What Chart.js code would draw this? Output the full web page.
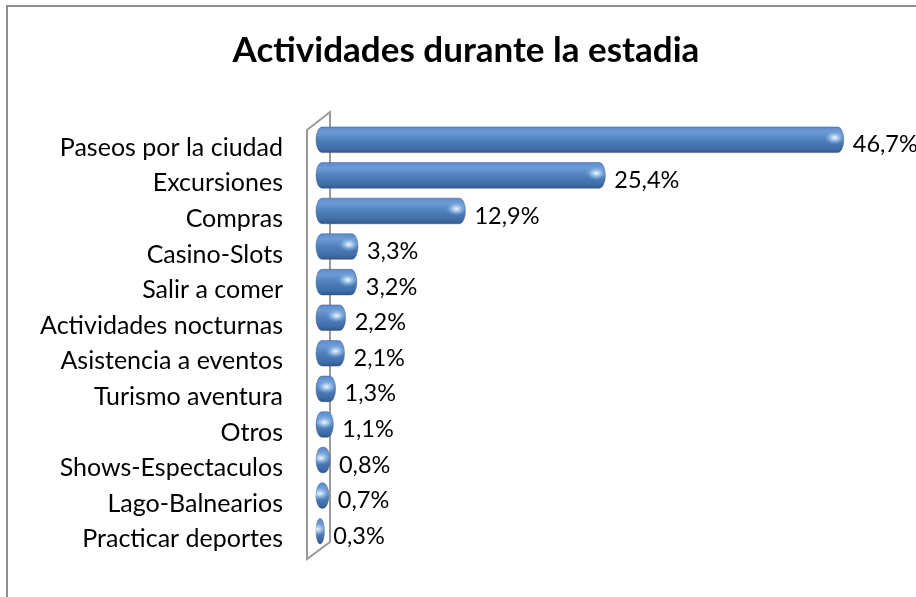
<!DOCTYPE html>
<html>
<head>
<meta charset="utf-8">
<script src="https://cdn.jsdelivr.net/npm/chart.js@4.4.1/dist/chart.umd.min.js"></script>
<style>
    html, body { margin: 0; padding: 0; background: #fff; overflow: hidden; }
    #wrap { width: 916px; height: 597px; position: relative; }
</style>
</head>
<body>
<div id="wrap"><canvas id="actividadesChart" width="916" height="597"></canvas></div>
<script>
// Datos
const categorias = [
    "Paseos por la ciudad", "Excursiones", "Compras", "Casino-Slots", "Salir a comer",
    "Actividades nocturnas", "Asistencia a eventos", "Turismo aventura", "Otros",
    "Shows-Espectaculos", "Lago-Balnearios", "Practicar deportes"
];
const porcentajes = [46.7, 25.4, 12.9, 3.3, 3.2, 2.2, 2.1, 1.3, 1.1, 0.8, 0.7, 0.3];
const etiquetas = porcentajes.map(v => v.toFixed(1).replace('.', ',') + '%');
const titulo = "Actividades durante la estadia";

const fuente = 'Lato, "Open Sans", sans-serif';

// Marco gris del grafico
const marco = {
    id: 'marco',
    beforeDraw(chart) {
        const c = chart.ctx;
        c.save();
        c.strokeStyle = '#8e8e8e';
        c.lineWidth = 2;
        c.strokeRect(7, 6, 2000, 2000);
        c.restore();
    }
};

// Pared 3D a la izquierda
const pared = {
    id: 'pared',
    beforeDatasetsDraw(chart) {
        const c = chart.ctx;
        const a = chart.chartArea;
        const x0 = chart.scales.x.getPixelForValue(0);
        c.save();
        c.beginPath();
        c.moveTo(x0 - 9, a.top + 8);
        c.lineTo(x0 + 14, a.top - 10);
        c.lineTo(x0 + 14, a.bottom - 7);
        c.lineTo(x0 - 9, a.bottom + 10);
        c.closePath();
        c.fillStyle = '#ffffff';
        c.fill();
        c.strokeStyle = '#9a9a9a';
        c.lineWidth = 2;
        c.stroke();
        c.restore();
    }
};

function trazoCilindro(c, left, right, cy, h) {
    const ry = h / 2;
    const rx = Math.min(6, (right - left) / 2);
    c.beginPath();
    c.ellipse(right - rx, cy, rx, ry, 0, -Math.PI / 2, Math.PI / 2);
    c.ellipse(left + rx, cy, rx, ry, 0, Math.PI / 2, Math.PI * 1.5);
    c.closePath();
}

// Barras tipo cilindro + etiquetas de valor
const cilindros = {
    id: 'cilindros',
    afterDatasetsDraw(chart) {
        const c = chart.ctx;
        const meta = chart.getDatasetMeta(0);
        meta.data.forEach((bar, i) => {
            const p = bar.getProps(['x', 'y', 'base', 'height'], true);
            const left = p.base;
            const right = p.x + 5;
            const top = p.y - p.height / 2;
            const bottom = p.y + p.height / 2;

            c.save();
            const g = c.createLinearGradient(0, top, 0, bottom);
            g.addColorStop(0, '#5a8bcb');
            g.addColorStop(0.2, '#6e9bd6');
            g.addColorStop(0.5, '#4f81bd');
            g.addColorStop(0.85, '#3f6ca6');
            g.addColorStop(1, '#31578a');
            trazoCilindro(c, left, right, p.y, p.height);
            c.fillStyle = g;
            c.fill();
            c.strokeStyle = 'rgba(50,80,130,0.45)';
            c.lineWidth = 1;
            c.stroke();

            // brillo cerca del extremo derecho
            c.clip();
            const rx = Math.min(6, (right - left) / 2);
            const hx = right - rx - 3;
            const hy = p.y - p.height * 0.08;
            c.translate(hx, hy);
            c.scale(1.5, 1);
            const r = c.createRadialGradient(0, 0, 0, 0, 0, 7);
            r.addColorStop(0, 'rgba(255,255,255,0.95)');
            r.addColorStop(0.45, 'rgba(200,230,255,0.55)');
            r.addColorStop(1, 'rgba(120,170,230,0)');
            c.fillStyle = r;
            c.beginPath();
            c.arc(0, 0, 7, 0, Math.PI * 2);
            c.fill();
            c.restore();

            // etiqueta
            c.save();
            c.fillStyle = '#000';
            c.font = '23.5px ' + fuente;
            c.textAlign = 'left';
            c.textBaseline = 'middle';
            c.fillText(etiquetas[i], right + 9, p.y + 5);
            c.restore();
        });
    }
};

const ctx = document.getElementById('actividadesChart');
new Chart(ctx, {
    type: 'bar',
    data: {
        labels: categorias,
        datasets: [{
            data: porcentajes,
            backgroundColor: 'rgba(0,0,0,0)',
            borderWidth: 0,
            barPercentage: 0.72,
            categoryPercentage: 1
        }]
    },
    options: {
        indexAxis: 'y',
        responsive: false,
        devicePixelRatio: 1,
        animation: false,
        layout: { padding: { left: 16, right: 0, top: 0, bottom: 40 } },
        scales: {
            x: { display: false, min: 0, max: 53.6 },
            y: {
                afterFit: (s) => { s.width = 300; },
                grid: { display: false, drawTicks: false },
                border: { display: false },
                ticks: {
                    padding: 33,
                    labelOffset: 8,
                    color: '#000',
                    font: { family: fuente, size: 25 }
                }
            }
        },
        plugins: {
            legend: { display: false },
            tooltip: { enabled: false },
            title: {
                display: true,
                text: titulo,
                color: '#000',
                font: { family: fuente, size: 35, weight: 'bold' },
                padding: { top: 30, bottom: 50 }
            }
        }
    },
    plugins: [marco, pared, cilindros]
});
</script>
</body>
</html>
